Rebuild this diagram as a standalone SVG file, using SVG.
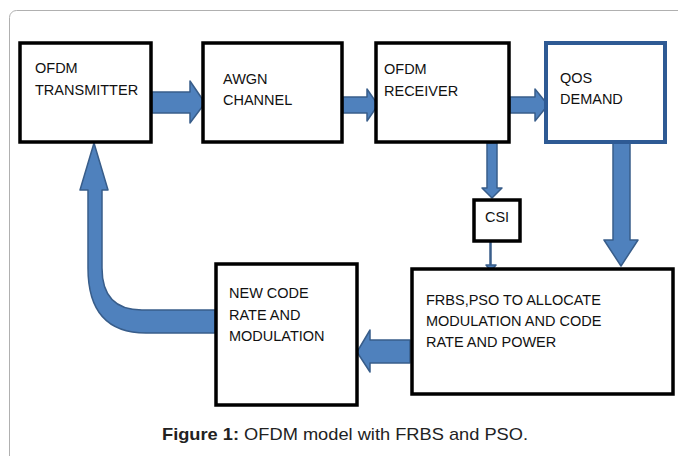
<svg xmlns="http://www.w3.org/2000/svg" width="678" height="456" viewBox="0 0 678 456">
<style>
.box{fill:#fff;stroke:#000;stroke-width:3.5}
.qbox{fill:#fff;stroke:#2e5a94;stroke-width:4}
.arr{fill:#4f81bd;stroke:#385d8a;stroke-width:1.5;stroke-linejoin:round}
.t{font-family:"Liberation Sans",Arial,sans-serif;font-size:14.5px;fill:#111}
.cap{font-family:"Liberation Sans",Arial,sans-serif;font-size:17px;fill:#222}
</style>
<rect x="9.5" y="10.5" width="700" height="470" rx="7" fill="#fff" stroke="#b0b0b0" stroke-width="1"/>
<g id="connectors">
<path class="arr" d="M152 92 L190 92 L190 81 L205 103 L190 123 L190 113 L152 113 Z"/>
<path class="arr" d="M343 97 L367 97 L367 89 L378 105 L367 121 L367 113 L343 113 Z"/>
<path class="arr" d="M510 97 L535 97 L535 89 L548 105 L535 121 L535 113 L510 113 Z"/>
<path class="arr" d="M487 143 L497 143 L497 188 L502 188 L492 198 L482 188 L487 188 Z"/>
<path d="M490.5 242 L490.5 266" stroke="#385d8a" stroke-width="2.5" fill="none"/>
<path class="arr" d="M486 265 L496 265 L491 271 Z"/>
<path class="arr" d="M613 143 L630 143 L630 240 L638 240 L621 266 L604 240 L613 240 Z"/>
<path class="arr" d="M410 340 L370 340 L370 330 L357 352 L370 372 L370 363 L410 363 Z"/>
<path class="arr" d="M215 310 L142 310 Q102 310 102 268 L102 190 L108 190 L94 143 L80 190 L88 190 L88 268 Q88 333 146 333 L215 333 Z"/>
</g>
<g id="ofdm-transmitter"><rect class="box" x="20" y="43" width="131" height="99"/>
<text class="t" x="35" y="73">OFDM</text><text class="t" x="35" y="95">TRANSMITTER</text></g>
<g id="awgn-channel"><rect class="box" x="203" y="43" width="139" height="99"/>
<text class="t" x="223" y="84">AWGN</text><text class="t" x="223" y="105">CHANNEL</text></g>
<g id="ofdm-receiver"><rect class="box" x="376" y="43" width="133" height="99"/>
<text class="t" x="384" y="74">OFDM</text><text class="t" x="384" y="96">RECEIVER</text></g>
<g id="qos-demand"><rect class="qbox" x="546" y="43" width="119" height="99"/>
<text class="t" x="560" y="83">QOS</text><text class="t" x="560" y="104">DEMAND</text></g>
<g id="csi"><rect class="box" x="474" y="200" width="46" height="41"/>
<text class="t" x="497" y="222" text-anchor="middle">CSI</text></g>
<g id="frbs-pso"><rect class="box" x="412" y="269" width="261" height="125"/>
<text class="t" x="426" y="305">FRBS,PSO TO ALLOCATE</text><text class="t" x="426" y="326">MODULATION AND CODE</text><text class="t" x="426" y="347">RATE AND POWER</text></g>
<g id="new-code-rate"><rect class="box" x="216" y="264" width="141" height="141"/>
<text class="t" x="229" y="298">NEW CODE</text><text class="t" x="229" y="320">RATE AND</text><text class="t" x="229" y="341">MODULATION</text></g>
<text class="cap" x="162" y="440" textLength="366" lengthAdjust="spacingAndGlyphs"><tspan font-weight="bold">Figure 1:</tspan> OFDM model with FRBS and PSO.</text>
</svg>
